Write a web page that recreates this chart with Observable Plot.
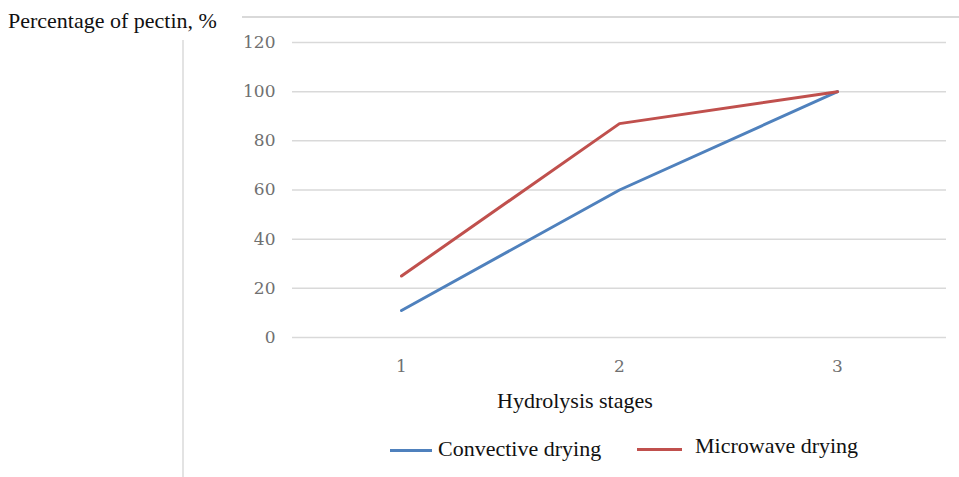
<!DOCTYPE html>
<html><head><meta charset="utf-8">
<script src="https://cdn.jsdelivr.net/npm/d3@7"></script>
<script src="https://cdn.jsdelivr.net/npm/@observablehq/plot@0.6"></script>
<style>
body{margin:0;background:#fff;}
#wrap{position:relative;width:959px;height:477px;overflow:hidden;}
.serif{font-family:"Liberation Serif","Times New Roman",serif;color:#111;position:absolute;white-space:nowrap;font-size:22px;line-height:24px;}
.frameTop{position:absolute;left:242px;top:16px;width:717px;height:0;border-top:2px solid #d9d9d9;}
.frameLeft{position:absolute;left:182px;top:40px;width:0;height:437px;border-left:2px solid #e3e3e3;}
.sw{position:absolute;height:0;border-top:3px solid;}
</style></head>
<body>
<div id="wrap">
  <div class="frameTop"></div>
  <div class="frameLeft"></div>
  <div id="chart"></div>
  <div class="serif" style="left:8px;top:9px;">Percentage of pectin, %</div>
  <div class="serif" style="left:497px;top:389px;">Hydrolysis stages</div>
  <div class="sw" style="left:390px;top:449px;width:42px;border-color:#4F81BD;"></div>
  <div class="serif" style="left:438px;top:437px;">Convective drying</div>
  <div class="sw" style="left:637px;top:448px;width:45px;border-color:#C0504D;"></div>
  <div class="serif" style="left:695px;top:434px;">Microwave drying</div>
</div>
<script>
const stages = [1, 2, 3];
const convective = [11, 60, 100];
const microwave = [25, 87, 100];
const yTicks = [0, 20, 40, 60, 80, 100, 120];
const seriesNames = ["Convective drying", "Microwave drying"];
const seriesColors = ["#4F81BD", "#C0504D"];

const data = [];
stages.forEach((s, i) => data.push({stage: s, value: convective[i], series: seriesNames[0]}));
stages.forEach((s, i) => data.push({stage: s, value: microwave[i], series: seriesNames[1]}));

const chart = Plot.plot({
  width: 959,
  height: 477,
  marginLeft: 292,
  marginRight: 13,
  marginTop: 42,
  marginBottom: 140,
  style: {background: "transparent", fontFamily: "'DejaVu Serif', serif", fontSize: "17px", color: "#707070"},
  x: {type: "point", domain: stages, padding: 0.5, label: null},
  y: {domain: [0, 120], label: null},
  color: {domain: seriesNames, range: seriesColors},
  marks: [
    Plot.ruleY(yTicks, {stroke: "#d9d9d9", strokeWidth: 1.5}),
    Plot.axisX({tickSize: 0, tickPadding: 22, fill: "#707070", fontSize: 17, label: null}),
    Plot.axisY({ticks: yTicks, tickSize: 0, tickPadding: 17, fill: "#707070", fontSize: 17, label: null}),
    Plot.line(data, {x: "stage", y: "value", stroke: "series", z: "series", strokeWidth: 3})
  ]
});
document.getElementById("chart").appendChild(chart);
</script>
</body></html>
